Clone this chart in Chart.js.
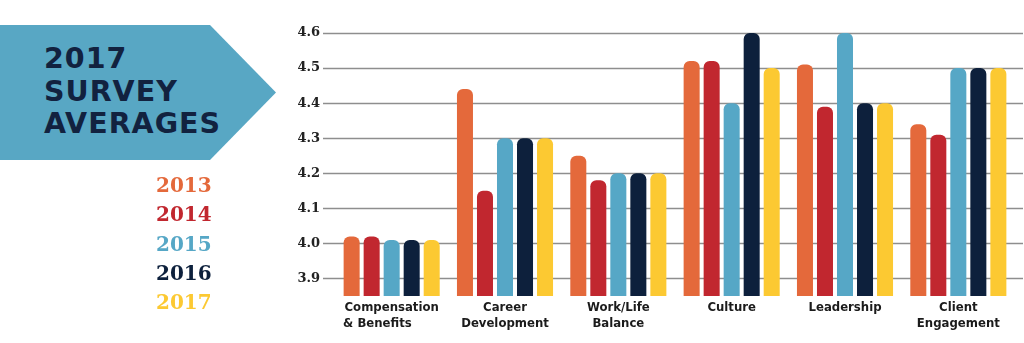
<!DOCTYPE html>
<html>
<head>
<meta charset="utf-8">
<title>2017 Survey Averages</title>
<script src="https://cdn.jsdelivr.net/npm/chart.js@4.4.0/dist/chart.umd.min.js"></script>
<style>
  html, body { margin: 0; padding: 0; background: #fff; }
  #wrap { position: relative; width: 1024px; height: 343px; overflow: hidden; }
  #myChart { position: absolute; left: 0; top: 0; }
  #banner {
    position: absolute; left: 0; top: 25px; width: 276px; height: 135px;
    background: #58a7c4;
    clip-path: polygon(0 0, 210px 0, 276px 67.5px, 210px 135px, 0 135px);
  }
  #banner div {
    position: absolute; left: 44px; top: 18px;
    font: 700 28.5px/32.5px 'DejaVu Sans', sans-serif; color: #12223f;
    letter-spacing: 1px;
  }
  #years {
    position: absolute; left: 156px; top: 171px;
    font: 700 20px/29.3px 'DejaVu Serif', serif;
  }
  #years span { display: block; }
</style>
</head>
<body>
<div id="wrap">
  <canvas id="myChart" width="1024" height="343"></canvas>
  <div id="banner"><div>2017<br>SURVEY<br>AVERAGES</div></div>
  <div id="years"></div>
</div>
<script>
// survey categories (two-line labels under each group);
// the trailing spaces keep "& Benefits" flush left under "Compensation"
var categories = [
    ['Compensation', '& Benefits       '],
    ['Career', 'Development'],
    ['Work/Life', 'Balance'],
    ['Culture'],
    ['Leadership'],
    ['Client', 'Engagement']
];
var years = ['2013', '2014', '2015', '2016', '2017'];
var yearColors = ['#e4693b', '#c1272f', '#56a7c6', '#0d203c', '#fcc932'];

// average score per category, one array per survey year
var avg2013 = [4.02, 4.44, 4.25, 4.52, 4.51, 4.34];
var avg2014 = [4.02, 4.15, 4.18, 4.52, 4.39, 4.31];
var avg2015 = [4.01, 4.30, 4.20, 4.40, 4.60, 4.50];
var avg2016 = [4.01, 4.30, 4.20, 4.60, 4.40, 4.50];
var avg2017 = [4.01, 4.30, 4.20, 4.50, 4.40, 4.50];

var yTicks = [3.9, 4.0, 4.1, 4.2, 4.3, 4.4, 4.5, 4.6];

var series = [avg2013, avg2014, avg2015, avg2016, avg2017];

// year key on the left
var yearsBox = document.getElementById('years');
years.forEach(function (y, i) {
    var s = document.createElement('span');
    s.textContent = y;
    s.style.color = yearColors[i];
    yearsBox.appendChild(s);
});

// horizontal rules, a bit wider than the plot area, drawn behind the bars
var gridLines = {
    id: 'gridLines',
    beforeDatasetsDraw: function (chart) {
        var ctx = chart.ctx;
        var area = chart.chartArea;
        var y = chart.scales.y;
        ctx.save();
        ctx.strokeStyle = '#8e8e8e';
        ctx.lineWidth = 1.3;
        y.ticks.forEach(function (t) {
            var py = Math.round(y.getPixelForValue(t.value)) + 0.5;
            ctx.beginPath();
            ctx.moveTo(area.left - 12, py);
            ctx.lineTo(area.right + 8, py);
            ctx.stroke();
        });
        ctx.restore();
    }
};

var ctx = document.getElementById('myChart').getContext('2d');
var chart = new Chart(ctx, {
    type: 'bar',
    data: {
        labels: categories,
        datasets: series.map(function (d, i) {
            return {
                label: years[i],
                data: d,
                backgroundColor: yearColors[i],
                borderRadius: 6,
                borderSkipped: false,
                categoryPercentage: 0.883,
                barPercentage: 0.8
            };
        })
    },
    options: {
        responsive: false,
        animation: false,
        devicePixelRatio: 1,
        layout: { padding: { top: 33, right: 9, left: 0, bottom: 0 } },
        plugins: {
            legend: { display: false },
            tooltip: { enabled: false }
        },
        scales: {
            x: {
                grid: { display: false, drawTicks: false },
                border: { display: false },
                ticks: {
                    color: '#1b1b1b',
                    padding: 4,
                    maxRotation: 0,
                    autoSkip: false,
                    font: { family: "'Liberation Sans Narrow', 'Arial Narrow', 'DejaVu Sans Condensed', sans-serif", weight: 'bold', size: 13, lineHeight: 1.23 }
                },
                afterFit: function (scale) { scale.height = 47; }
            },
            y: {
                min: 3.85,
                max: 4.6,
                grid: { display: false, drawTicks: false },
                border: { display: false },
                ticks: {
                    color: '#222',
                    padding: 15,
                    font: { family: "'DejaVu Serif', serif", weight: 'bold', size: 13 },
                    callback: function (v) { return v.toFixed(1); }
                },
                afterBuildTicks: function (axis) {
                    axis.ticks = yTicks.map(function (v) { return { value: v }; });
                },
                afterFit: function (scale) { scale.width = 335; }
            }
        }
    },
    plugins: [gridLines]
});
</script>
</body>
</html>
